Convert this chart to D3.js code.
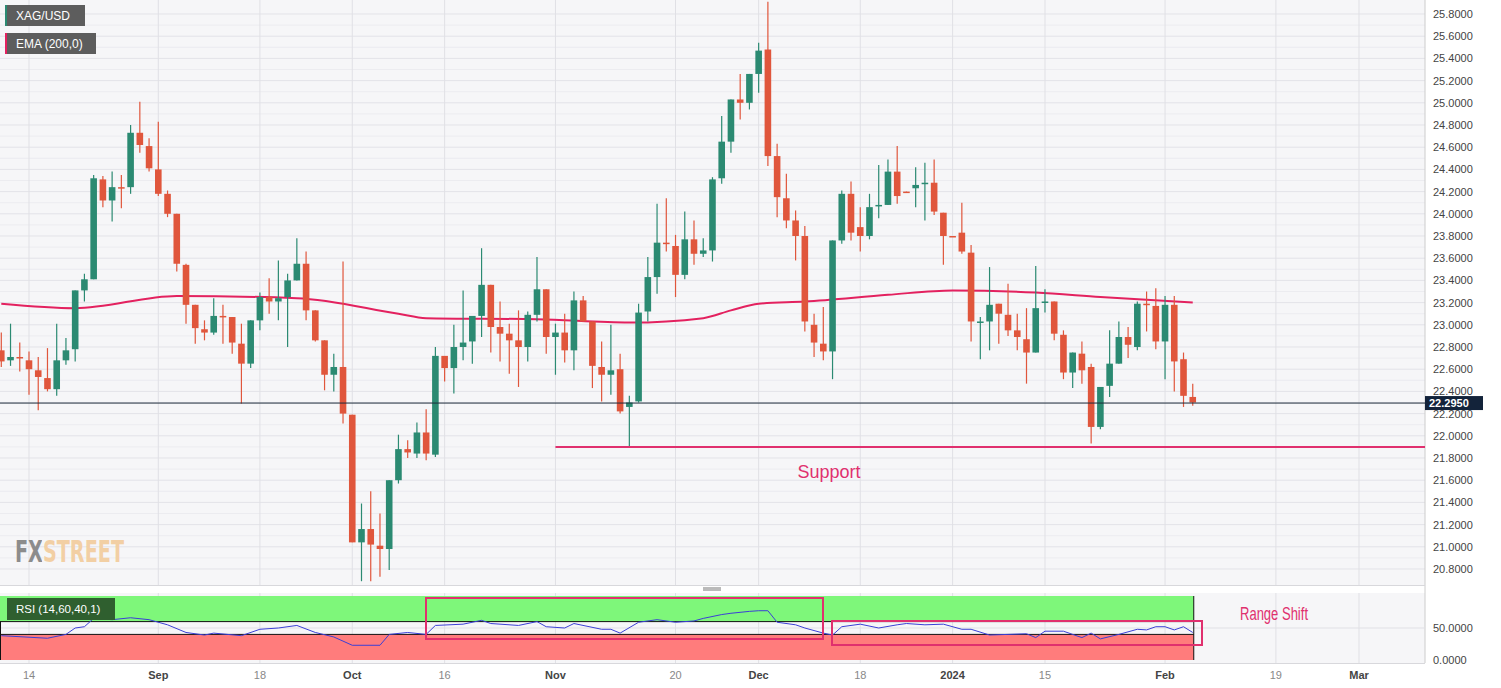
<!DOCTYPE html>
<html><head><meta charset="utf-8">
<script src="https://cdn.jsdelivr.net/npm/d3@7"></script>
<style>body{margin:0;background:#fff;font-family:Arial,"Liberation Sans",sans-serif}</style>
</head><body><svg id="c" width="1501" height="688"></svg>
<script>
// weekday index 0 = Aug 14 2023; first candle is index -3
const firstIndex = -3;
const opens = [22.77,22.68,22.71,22.68,22.59,22.52,22.42,22.68,22.78,23.31,23.41,24.31,24.12,24.24,24.24,24.73,24.61,24.40,24.18,24.00,23.54,23.18,22.96,22.93,23.08,23.07,22.83,22.65,23.04,23.25,23.21,23.25,23.40,23.55,23.13,22.86,22.55,22.62,22.19,21.04,21.16,21.01,20.98,21.60,21.88,21.84,22.03,21.83,22.72,22.61,22.80,22.85,23.08,23.36,22.98,22.92,22.86,22.80,23.09,23.32,22.89,22.93,22.77,23.22,23.03,22.62,22.55,22.60,22.26,22.31,23.12,23.43,23.74,23.71,23.45,23.77,23.64,23.67,24.32,24.65,25.03,25.00,25.26,25.48,24.52,24.14,23.94,23.80,23.00,22.83,22.76,23.76,24.18,23.88,23.80,24.07,24.08,24.38,24.20,24.23,24.27,24.28,24.01,23.80,23.83,23.65,23.02,23.03,23.19,23.09,22.95,22.87,22.75,23.20,23.21,22.91,22.57,22.74,22.62,22.08,22.45,22.65,22.89,22.80,23.19,23.17,22.85,23.18,22.69,22.35];
const highs = [22.93,23.01,22.84,22.76,22.71,22.79,23.01,22.88,23.31,23.46,24.35,24.34,24.38,24.35,24.80,25.01,24.68,24.83,24.21,24.00,23.55,23.18,23.04,23.24,23.18,23.07,23.01,23.04,23.29,23.42,23.58,23.46,23.78,23.66,23.13,22.86,22.74,23.57,22.19,21.39,21.50,21.30,21.60,22.01,21.96,22.12,22.24,22.80,22.72,23.00,23.31,23.08,23.69,23.36,23.21,23.01,23.13,23.12,23.61,23.32,23.01,23.10,23.30,23.26,23.03,22.85,23.00,22.74,22.36,23.19,23.61,24.09,24.14,23.81,24.02,23.94,23.78,24.33,24.88,25.03,25.26,25.26,25.54,25.91,24.63,24.36,24.03,23.89,23.10,23.16,23.76,24.21,24.29,24.06,24.18,24.44,24.49,24.61,24.20,24.42,24.46,24.49,24.01,23.80,24.10,23.72,23.07,23.52,23.19,23.37,23.10,23.15,23.53,23.32,23.21,22.95,22.75,22.85,22.65,22.44,22.95,23.03,22.98,23.21,23.30,23.33,23.26,23.26,22.75,22.47];
const lows = [22.62,22.63,22.58,22.37,22.23,22.40,22.36,22.64,22.67,23.21,23.41,24.06,23.93,24.05,24.18,24.55,24.38,24.16,23.97,23.48,23.01,22.83,22.86,22.91,22.83,22.74,22.29,22.61,22.95,23.10,23.04,22.80,23.40,23.04,22.85,22.41,22.40,22.11,21.04,20.69,20.69,20.73,20.79,21.57,21.80,21.80,21.78,21.81,22.49,22.38,22.68,22.65,22.89,22.75,22.67,22.56,22.44,22.67,23.03,22.74,22.55,22.66,22.59,23.03,22.43,22.31,22.37,22.20,21.90,22.30,23.03,23.28,23.66,23.25,23.41,23.54,23.61,23.57,24.27,24.55,24.85,24.94,25.09,24.43,23.97,23.87,23.58,22.94,22.71,22.68,22.51,23.73,23.76,23.66,23.77,23.96,24.08,24.09,24.19,24.06,23.94,23.99,23.54,23.79,23.64,22.85,22.69,22.77,22.83,22.90,22.77,22.47,22.75,23.11,22.86,22.51,22.43,22.47,21.93,22.06,22.35,22.65,22.70,22.77,22.94,22.78,22.51,22.40,22.26,22.27];
const closes = [22.67,22.71,22.70,22.60,22.53,22.42,22.68,22.77,23.31,23.41,24.32,24.12,24.24,24.23,24.73,24.62,24.41,24.18,24.00,23.55,23.18,22.97,22.93,23.08,23.07,22.84,22.65,23.04,23.25,23.21,23.24,23.40,23.55,23.13,22.86,22.55,22.62,22.20,21.04,21.16,21.02,20.98,21.60,21.88,21.85,22.03,21.84,22.72,22.61,22.80,22.84,23.08,23.36,22.98,22.92,22.86,22.80,23.09,23.32,22.89,22.93,22.77,23.22,23.03,22.63,22.55,22.59,22.22,22.30,23.11,23.43,23.74,23.73,23.45,23.77,23.64,23.67,24.31,24.65,25.03,25.00,25.26,25.47,24.52,24.15,23.94,23.80,23.03,22.84,22.76,23.76,24.18,23.83,23.80,24.06,24.08,24.38,24.16,24.19,24.26,24.28,24.02,23.80,23.79,23.66,23.03,23.03,23.18,23.10,22.95,22.89,22.75,23.15,23.21,22.92,22.57,22.75,22.59,22.08,22.44,22.65,22.89,22.82,23.19,23.18,22.85,23.18,22.67,22.36,22.30];
const emaIdx = [-3,5,16,29,40,43,55,65,73,76,79,84,93,100,109,116,126];
const emaVal = [23.19,23.15,23.26,23.24,23.10,23.06,23.05,23.02,23.06,23.13,23.19,23.21,23.27,23.31,23.29,23.25,23.20];
const rsiIdx = [-3,2,4,5,6,7,9,11,13,15,17,19,20,23,25,27,29,31,33,35,38,39,41,43,44,47,49,50,53,55,56,58,59,62,63,64,66,68,70,72,73,75,76,78,79,80,81,83,84,86,87,88,90,92,94,95,97,99,101,102,104,108,109,110,112,114,115,116,118,120,121,122,123,124,125,126];
const rsiVal = [38,34,40,50,52,65,63,66,63,55,43,39,42,38,48,50,54,43,36,23,23,40,43,40,54,56,62,57,54,60,52,50,57,48,48,42,59,63,59,61,65,71,73,76,77,77,59,55,50,42,39,52,56,50,55,57,55,56,48,48,39,41,35,45,45,35,42,33,40,48,47,52,52,47,52,43];
const yTicks = [20.8,21.0,21.2,21.4,21.6,21.8,22.0,22.2,22.4,22.6,22.8,23.0,23.2,23.4,23.6,23.8,24.0,24.2,24.4,24.6,24.8,25.0,25.2,25.4,25.6,25.8];
const dateTickIdx = [0,14,25,35,45,57,70,79,90,100,110,123,135,144];
const dateTickLbl = ["14","Sep","18","Oct","16","Nov","20","Dec","18","2024","15","Feb","19","Mar"];
const lastPrice = 22.295, supportLevel = 21.9, supportFromIdx = 57;

const svg = d3.select("#c");
const W = 1425, mainH = 585, rsiTop = 593, rsiBot = 663;
const x = d3.scaleLinear().domain([0,144]).range([29,1359]);
const y = d3.scaleLinear().domain([20.8,25.8]).range([569,14]);
const yr = d3.scaleLinear().domain([0,100]).range([660,596]);

const defs = svg.append("defs");
const grad = defs.append("linearGradient").attr("id","wm").attr("gradientUnits","userSpaceOnUse").attr("x1",15).attr("x2",124).attr("y1",0).attr("y2",0);
[[0,"#8c8c8c"],[0.25,"#8c8c8c"],[0.25,"#f2cfa4"],[1,"#f2cfa4"]].forEach(s=>grad.append("stop").attr("offset",s[0]).attr("stop-color",s[1]));

svg.append("rect").attr("width",1501).attr("height",688).attr("fill","#fff");
svg.append("rect").attr("x",0).attr("y",0).attr("width",W).attr("height",mainH).attr("fill","#f6f6f8");
svg.append("rect").attr("x",0).attr("y",rsiTop).attr("width",W).attr("height",rsiBot-rsiTop).attr("fill","#f6f6f8");
const g = svg.append("g");
yTicks.forEach(t=>g.append("line").attr("x1",0).attr("x2",W).attr("y1",y(t)).attr("y2",y(t)).attr("stroke","#e3e3e8"));
yTicks.forEach((t,k)=>{ if(k<yTicks.length-1) g.append("line").attr("x1",0).attr("x2",W).attr("y1",y(t+0.1)).attr("y2",y(t+0.1)).attr("stroke","#ececf0");});
dateTickIdx.forEach(i=>{
  g.append("line").attr("x1",x(i)).attr("x2",x(i)).attr("y1",0).attr("y2",mainH).attr("stroke","#e0e0e5");
  g.append("line").attr("x1",x(i)).attr("x2",x(i)).attr("y1",rsiTop).attr("y2",rsiBot).attr("stroke","#e0e0e5");
});
svg.append("line").attr("x1",W).attr("x2",W).attr("y1",0).attr("y2",rsiBot).attr("stroke","#ccc");
svg.append("line").attr("x1",0).attr("x2",W).attr("y1",mainH+0.5).attr("y2",mainH+0.5).attr("stroke","#d8d8dc");
svg.append("line").attr("x1",0).attr("x2",W).attr("y1",rsiBot+0.5).attr("y2",rsiBot+0.5).attr("stroke","#d8d8dc");
[588,590].forEach(yy=>svg.append("line").attr("x1",703).attr("x2",721).attr("y1",yy).attr("y2",yy).attr("stroke","#777"));

// watermark (single text, two-tone via gradient)
svg.append("text").attr("x",15).attr("y",562).attr("font-size",31).attr("font-weight","bold")
  .attr("font-family","'Liberation Sans Narrow','DejaVu Sans Condensed',sans-serif")
  .attr("textLength",109).attr("lengthAdjust","spacingAndGlyphs").attr("fill","url(#wm)").text("FXSTREET");

yTicks.forEach(t=>svg.append("text").attr("x",1433).attr("y",y(t)+4).attr("font-size",11).attr("fill","#444").text(t.toFixed(4)));

const ema = emaIdx.map((d,k)=>[d,emaVal[k]]);
svg.append("path").attr("d",d3.line().x(d=>x(d[0])).y(d=>y(d[1])).curve(d3.curveMonotoneX)(ema))
  .attr("fill","none").attr("stroke","#e3215f").attr("stroke-width",2);

const up="#2b8a72", dn="#e0563c";
const cg = svg.append("g");
opens.forEach((o,k)=>{
  const i = firstIndex+k, c = closes[k], col = c>=o?up:dn, cx = x(i);
  cg.append("line").attr("x1",cx).attr("x2",cx).attr("y1",y(highs[k])).attr("y2",y(lows[k])).attr("stroke",col).attr("stroke-width",1.2);
  const top = y(Math.max(o,c)), h = Math.max(1.5, Math.abs(y(o)-y(c)));
  cg.append("rect").attr("x",cx-3.3).attr("y",top).attr("width",6.6).attr("height",h).attr("fill",col);
});

svg.append("line").attr("x1",0).attr("x2",W).attr("y1",y(lastPrice)).attr("y2",y(lastPrice)).attr("stroke","#1d2b3a").attr("stroke-width",1);
svg.append("rect").attr("x",W).attr("y",y(lastPrice)-7).attr("width",58).attr("height",14).attr("fill","#13233a");
svg.append("text").attr("x",W+4).attr("y",y(lastPrice)+4).attr("font-size",11).attr("font-weight","bold").attr("fill","#fff").text(lastPrice.toFixed(4));

svg.append("line").attr("x1",x(supportFromIdx)).attr("x2",W).attr("y1",y(supportLevel)).attr("y2",y(supportLevel)).attr("stroke","#e0306e").attr("stroke-width",2);
svg.append("text").attr("x",829).attr("y",478).attr("text-anchor","middle").attr("font-size",18).attr("fill","#e0306e").text("Support");

function legend(yy,w,txt,strip){
  svg.append("rect").attr("x",5).attr("y",yy).attr("width",w).attr("height",21).attr("fill","#5d5d5d");
  svg.append("rect").attr("x",5).attr("y",yy).attr("width",2).attr("height",21).attr("fill",strip);
  svg.append("text").attr("x",16).attr("y",yy+15).attr("font-size",12).attr("fill","#fff").text(txt);
}
legend(5,80,"XAG/USD","#2b8a72");
legend(33,91,"EMA (200,0)","#e3215f");

const zoneEnd = x(126)+1;
svg.append("rect").attr("x",0).attr("y",yr(100)).attr("width",zoneEnd).attr("height",yr(60)-yr(100)).attr("fill","#7ef77a");
svg.append("rect").attr("x",0).attr("y",yr(40)).attr("width",zoneEnd).attr("height",yr(0)-yr(40)).attr("fill","#ff7c7c");
svg.append("line").attr("x1",0).attr("x2",W).attr("y1",yr(50)).attr("y2",yr(50)).attr("stroke","#e0e0e5");
[60,40].forEach(v=>svg.append("line").attr("x1",0).attr("x2",zoneEnd).attr("y1",yr(v)).attr("y2",yr(v)).attr("stroke","#111").attr("stroke-width",1));
svg.append("line").attr("x1",zoneEnd).attr("x2",zoneEnd).attr("y1",yr(100)).attr("y2",yr(0)).attr("stroke","#111");
svg.append("line").attr("x1",0.5).attr("x2",0.5).attr("y1",yr(60)).attr("y2",yr(0)).attr("stroke","#111");
const rsi = rsiIdx.map((d,k)=>[d,rsiVal[k]]);
svg.append("path").attr("d",d3.line().x(d=>x(d[0])).y(d=>yr(d[1]))(rsi)).attr("fill","none").attr("stroke","#3b3fd6").attr("stroke-width",1);
svg.append("rect").attr("x",5).attr("y",598).attr("width",110).attr("height",22).attr("fill","#2f5f2f");
svg.append("rect").attr("x",5).attr("y",598).attr("width",2).attr("height",22).attr("fill","#7ef77a");
svg.append("text").attr("x",16).attr("y",613).attr("font-size",11.5).attr("fill","#fff").text("RSI (14,60,40,1)");
["50.0000","0.0000"].forEach((t,k)=>svg.append("text").attr("x",1433).attr("y",yr(k?0:50)+4).attr("font-size",11).attr("fill","#444").text(t));
svg.append("rect").attr("x",426).attr("y",598).attr("width",397).attr("height",41).attr("fill","none").attr("stroke","#e0306e").attr("stroke-width",2);
svg.append("rect").attr("x",832).attr("y",621).attr("width",370).attr("height",24).attr("fill","none").attr("stroke","#e0306e").attr("stroke-width",2);
svg.append("text").attr("x",1240).attr("y",620).attr("font-size",19).attr("fill","#e0306e")
  .attr("font-family","'Liberation Sans Narrow',sans-serif").attr("textLength",68).attr("lengthAdjust","spacingAndGlyphs").text("Range Shift");

const bold = new Set(["Sep","Oct","Nov","Dec","2024","Feb","Mar"]);
dateTickIdx.forEach((i,k)=>svg.append("text").attr("x",x(i)).attr("y",679).attr("text-anchor","middle").attr("font-size",11)
  .attr("fill",bold.has(dateTickLbl[k])?"#444":"#888").attr("font-weight",bold.has(dateTickLbl[k])?"bold":"normal").text(dateTickLbl[k]));
</script></body></html>
